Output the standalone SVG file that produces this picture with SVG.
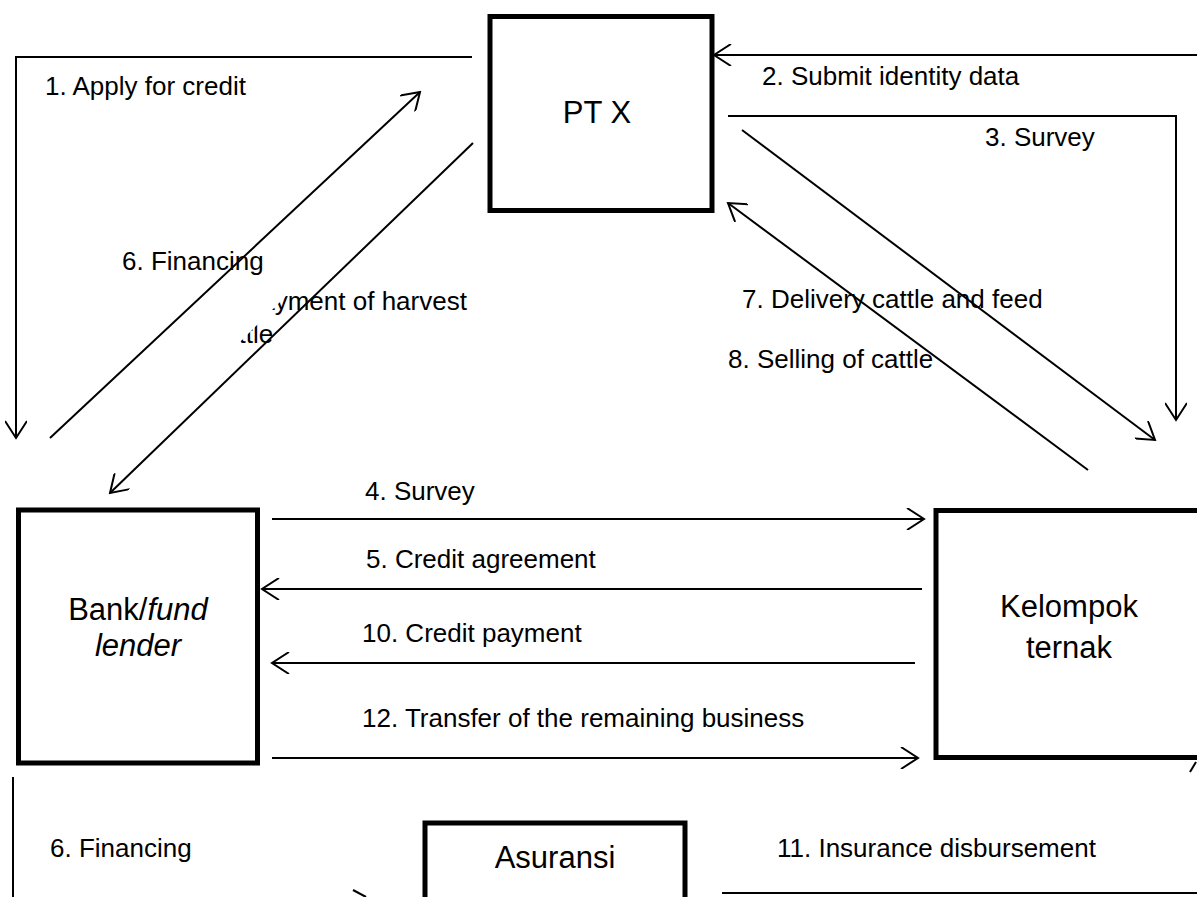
<svg xmlns="http://www.w3.org/2000/svg" width="1197" height="897" viewBox="0 0 1197 897">
<style>
.box{fill:#fff;stroke:#000;stroke-width:5}
.nl{font-family:"Liberation Sans",Arial,sans-serif;font-size:31px;fill:#000}
.el{font-family:"Liberation Sans",Arial,sans-serif;font-size:26px;fill:#000}
.c{fill:none;stroke:#000;stroke-width:2}
.arr{marker-end:url(#ah)}
</style>
<defs>
<marker id="ah" markerUnits="userSpaceOnUse" viewBox="0 0 20 22" refX="18" refY="11" markerWidth="20" markerHeight="22" orient="auto">
<path d="M1,0 L18,11 L1,22" fill="none" stroke="#000" stroke-width="2"/>
</marker>
<clipPath id="cut9">
<polygon points="298,284 620,284 620,354 228,354"/>
</clipPath>
</defs>
<rect width="1197" height="897" fill="#fff"/>

<g id="node-ptx">
<rect class="box" x="490" y="16.5" width="222" height="194"/>
<text class="nl" x="597" y="123" text-anchor="middle">PT X</text>
</g>
<g id="node-bank">
<rect class="box" x="18.5" y="510" width="239" height="253"/>
<text class="nl" x="138" y="620" text-anchor="middle">Bank/<tspan font-style="italic">fund</tspan></text>
<text class="nl" x="138" y="656" text-anchor="middle" font-style="italic">lender</text>
</g>
<g id="node-kelompok">
<rect class="box" x="936" y="510.5" width="300" height="247"/>
<text class="nl" x="1069" y="617" text-anchor="middle">Kelompok</text>
<text class="nl" x="1069" y="658" text-anchor="middle">ternak</text>
</g>
<g id="node-asuransi">
<rect class="box" x="425" y="823" width="260" height="100"/>
<text class="nl" x="555" y="868" text-anchor="middle">Asuransi</text>
</g>

<g id="labels">
<text class="el" x="45" y="95">1. Apply for credit</text>
<text class="el" x="762" y="85">2. Submit identity data</text>
<text class="el" x="985" y="146">3. Survey</text>
<text class="el" x="122" y="270">6. Financing</text>
<g clip-path="url(#cut9)">
<text class="el" x="214" y="310">9. Payment of harvest</text>
<text class="el" x="211" y="343">cattle</text>
</g>
<text class="el" x="742" y="308">7. Delivery cattle and feed</text>
<text class="el" x="728" y="368">8. Selling of cattle</text>
<text class="el" x="365" y="500">4. Survey</text>
<text class="el" x="366" y="568">5. Credit agreement</text>
<text class="el" x="362" y="642">10. Credit payment</text>
<text class="el" x="362" y="727">12. Transfer of the remaining business</text>
<text class="el" x="50" y="857">6. Financing</text>
<text class="el" x="777" y="857">11. Insurance disbursement</text>
</g>

<g id="connectors">
<polyline class="c arr" points="472,57 16,57 16,438"/>
<line class="c arr" x1="1197" y1="55" x2="714" y2="55"/>
<polyline class="c arr" points="728,116 1176,116 1176,420"/>
<line class="c arr" x1="742" y1="130" x2="1155" y2="440"/>
<line class="c arr" x1="1088" y1="470" x2="728" y2="203"/>
<line class="c arr" x1="50" y1="438" x2="420" y2="92"/>
<line class="c arr" x1="473" y1="143" x2="110" y2="493"/>
<line class="c arr" x1="272" y1="519" x2="924" y2="519"/>
<line class="c arr" x1="922" y1="589" x2="262" y2="589"/>
<line class="c arr" x1="915" y1="663" x2="272" y2="663"/>
<line class="c arr" x1="272" y1="758" x2="918" y2="758"/>
<line class="c" x1="13" y1="777" x2="13" y2="897"/>
<line class="c" x1="722" y1="893" x2="1197" y2="893"/>
<line class="c" x1="353" y1="890" x2="366" y2="897"/>
<line class="c" x1="1190" y1="772" x2="1196" y2="762"/>
</g>
</svg>
